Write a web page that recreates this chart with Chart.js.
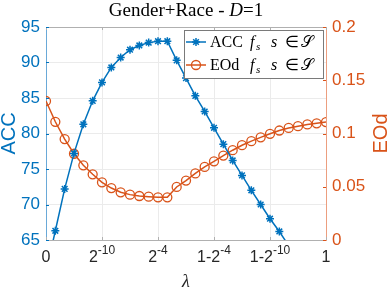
<!DOCTYPE html>
<html>
<head>
<meta charset="utf-8">
<script src="https://cdn.jsdelivr.net/npm/chart.js@4/dist/chart.umd.min.js"></script>
<style>
  html, body { margin: 0; padding: 0; background: #fff; }
</style>
</head>
<body>
<canvas id="chart" width="389" height="293"></canvas>
<script>
// lambda grid positions (index along the warped lambda axis)
const lambdaIdx = [0, 1, 2, 3, 4, 5, 6, 7, 8, 9, 10, 11, 12, 13, 14, 15,
                   16, 17, 18, 19, 20, 21, 22, 23, 24, 25, 26, 27, 28, 29, 30];
const xTickPos = [0, 6, 12, 18, 24, 30];
const xTickBase = ['0', '2', '2', '1-2', '1-2', '1'];
const xTickSup = ['', '-10', '-4', '-4', '-10', ''];

const accValues = [60.4, 66.3, 72.2, 77.2, 81.3, 84.6, 87.2, 89.3, 90.7, 91.8,
                   92.4, 92.8, 93.0, 93.0, 90.3, 87.8, 85.3, 83.1, 80.8, 78.5,
                   76.2, 74.1, 72.0, 70.0, 68.0, 66.2, 64.2, 62.3, 60.4, 58.5, 56.6];
const eodValues = [0.1305, 0.111, 0.0948, 0.081, 0.0701, 0.0617, 0.0542, 0.0488,
                   0.0448, 0.0426, 0.0413, 0.0407, 0.0401, 0.0401, 0.0498, 0.0558,
                   0.0625, 0.0686, 0.0739, 0.0793, 0.0843, 0.089, 0.0928, 0.0964,
                   0.0997, 0.1028, 0.1052, 0.1069, 0.1085, 0.1096, 0.1107];

const BLUE = '#0072BD';
const ORANGE = '#D95319';
const SANS = '"Liberation Sans", Arial, sans-serif';
const SERIF = '"Liberation Serif", "Times New Roman", serif';

// draws a run of [text, font, dy] pieces starting at x
function drawRuns(ctx, runs, x, y) {
    for (const r of runs) {
        ctx.font = r[1];
        ctx.fillText(r[0], x, y + (r[2] || 0));
        x += ctx.measureText(r[0]).width;
    }
    return x;
}
function runsWidth(ctx, runs) {
    let w = 0;
    for (const r of runs) { ctx.font = r[1]; w += ctx.measureText(r[0]).width; }
    return w;
}

const extras = {
    id: 'extras',
    afterDraw(chart) {
        const ctx = chart.ctx;
        const a = chart.chartArea;
        const xs = chart.scales.x, ys = chart.scales.y, ys1 = chart.scales.y1;
        ctx.save();

        // top box line + inward ticks
        ctx.lineWidth = 1;
        ctx.strokeStyle = '#b0b0b0';
        ctx.beginPath();
        ctx.moveTo(a.left, a.top + 0.5); ctx.lineTo(a.right, a.top + 0.5);
        for (const v of xTickPos) {
            const px = Math.round(xs.getPixelForValue(v)) + 0.5;
            ctx.moveTo(px, a.bottom); ctx.lineTo(px, a.bottom - 3);
            ctx.moveTo(px, a.top); ctx.lineTo(px, a.top + 3);
        }
        ctx.stroke();
        ctx.strokeStyle = BLUE;
        ctx.beginPath();
        ys.ticks.forEach(t => {
            const py = Math.round(ys.getPixelForValue(t.value)) + 0.5;
            ctx.moveTo(a.left, py); ctx.lineTo(a.left + 3, py);
        });
        ctx.stroke();
        ctx.strokeStyle = ORANGE;
        ctx.beginPath();
        ys1.ticks.forEach(t => {
            const py = Math.round(ys1.getPixelForValue(t.value)) + 0.5;
            ctx.moveTo(a.right, py); ctx.lineTo(a.right - 3, py);
        });
        ctx.stroke();

        // x tick labels with superscripts
        ctx.fillStyle = '#262626';
        ctx.textBaseline = 'alphabetic';
        ctx.textAlign = 'left';
        xTickPos.forEach((v, i) => {
            const runs = [[xTickBase[i], '16px ' + SANS, 0]];
            if (xTickSup[i]) runs.push([xTickSup[i], '12px ' + SANS, -8]);
            const w = runsWidth(ctx, runs);
            drawRuns(ctx, runs, xs.getPixelForValue(v) - w / 2, 262);
        });

        // title
        ctx.fillStyle = '#000';
        const title = [['Gender+Race - ', '19px ' + SERIF], ['D', 'italic 19px ' + SERIF], ['=1', '19px ' + SERIF]];
        const tw = runsWidth(ctx, title);
        drawRuns(ctx, title, (a.left + a.right) / 2 - tw / 2, 16);

        // right axis title (reads bottom to top)
        ctx.save();
        ctx.translate(381, (a.top + a.bottom) / 2);
        ctx.rotate(-Math.PI / 2);
        ctx.fillStyle = ORANGE;
        ctx.font = '20px ' + SANS;
        ctx.textAlign = 'center';
        ctx.textBaseline = 'middle';
        ctx.fillText('EOd', 0, 0);
        ctx.restore();

        // legend
        const lx = 184, ly = 30, lw = 139, lh = 48;
        ctx.fillStyle = '#fff';
        ctx.fillRect(lx, ly, lw, lh);
        ctx.strokeStyle = '#7a7a7a';
        ctx.lineWidth = 1;
        ctx.strokeRect(lx + 0.5, ly + 0.5, lw, lh);
        const rows = [
            { name: 'ACC', ds: chart.data.datasets[0], y: 42 },
            { name: 'EOd', ds: chart.data.datasets[1], y: 65 }
        ];
        rows.forEach(r => {
            ctx.strokeStyle = r.ds.borderColor;
            ctx.lineWidth = 1.5;
            ctx.beginPath();
            ctx.moveTo(186, r.y); ctx.lineTo(206, r.y);
            ctx.stroke();
            ctx.fillStyle = 'rgba(0,0,0,0)';
            ctx.lineWidth = r.ds.pointBorderWidth;
            Chart.helpers.drawPoint(ctx, {
                pointStyle: r.ds.pointStyle,
                radius: r.ds.pointRadius,
                borderWidth: r.ds.pointBorderWidth,
                rotation: 0
            }, 196, r.y);
            ctx.fillStyle = '#000';
            ctx.textBaseline = 'alphabetic';
            const by = r.y + 5;
            ctx.font = '16px ' + SERIF;
            ctx.fillText(r.name, 210, by);
            ctx.font = 'italic 16px ' + SERIF;
            ctx.fillText('f', 250, by);
            ctx.font = 'italic 11px ' + SERIF;
            ctx.fillText('s', 256, by + 3);
            ctx.font = 'italic 16px ' + SERIF;
            ctx.fillText('s', 271, by);
            ctx.font = '16px ' + SERIF;
            ctx.fillText('\u2208', 285, by);
            ctx.fillText('\u{1D4AE}', 301, by);
        });
        ctx.restore();
    }
};

new Chart(document.getElementById('chart'), {
    type: 'line',
    data: {
        datasets: [
            {
                label: 'ACC',
                data: lambdaIdx.map((x, i) => ({ x: x, y: accValues[i] })),
                yAxisID: 'y',
                borderColor: BLUE,
                backgroundColor: BLUE,
                borderWidth: 1.5,
                pointStyle: 'star',
                pointRadius: 4,
                pointBorderWidth: 1.5,
                pointBorderColor: BLUE,
                tension: 0
            },
            {
                label: 'EOd',
                data: lambdaIdx.map((x, i) => ({ x: x, y: eodValues[i] })),
                yAxisID: 'y1',
                borderColor: ORANGE,
                backgroundColor: 'rgba(0,0,0,0)',
                borderWidth: 1.5,
                pointStyle: 'circle',
                pointRadius: 4.5,
                pointBorderWidth: 1.3,
                pointBorderColor: ORANGE,
                pointBackgroundColor: 'rgba(0,0,0,0)',
                tension: 0
            }
        ]
    },
    options: {
        responsive: false,
        animation: false,
        layout: { padding: { top: 27, left: 0, right: 0, bottom: 0 } },
        plugins: {
            legend: { display: false },
            tooltip: { enabled: false },
            title: { display: false }
        },
        scales: {
            x: {
                type: 'linear',
                min: 0,
                max: 30,
                afterFit: s => { s.height = 53; },
                afterBuildTicks: s => { s.ticks = xTickPos.map(v => ({ value: v })); },
                ticks: { display: false },
                grid: { color: '#ebebeb', drawTicks: false },
                border: { color: '#b0b0b0' },
                title: {
                    display: true,
                    text: '\u03bb',
                    color: '#262626',
                    font: { family: SERIF, size: 18, style: 'italic' },
                    padding: { top: 0, bottom: 0 }
                }
            },
            y: {
                position: 'left',
                min: 65,
                max: 95,
                afterFit: s => { s.width = 46; },
                ticks: {
                    stepSize: 5,
                    color: BLUE,
                    padding: 6,
                    font: { family: SANS, size: 17 }
                },
                grid: { color: '#ebebeb', drawTicks: false },
                border: { color: '#6aa9d8' },
                title: {
                    display: true,
                    text: 'ACC',
                    color: BLUE,
                    font: { family: SANS, size: 20, lineHeight: 0.9 },
                    padding: 0
                }
            },
            y1: {
                position: 'right',
                min: 0,
                max: 0.2,
                afterFit: s => { s.width = 63; },
                ticks: {
                    stepSize: 0.05,
                    color: ORANGE,
                    padding: 6,
                    font: { family: SANS, size: 17 },
                    callback: v => String(Math.round(v * 100) / 100)
                },
                grid: { drawOnChartArea: false, drawTicks: false },
                border: { color: '#ec9e7f' }
            }
        }
    },
    plugins: [extras]
});
</script>
</body>
</html>
